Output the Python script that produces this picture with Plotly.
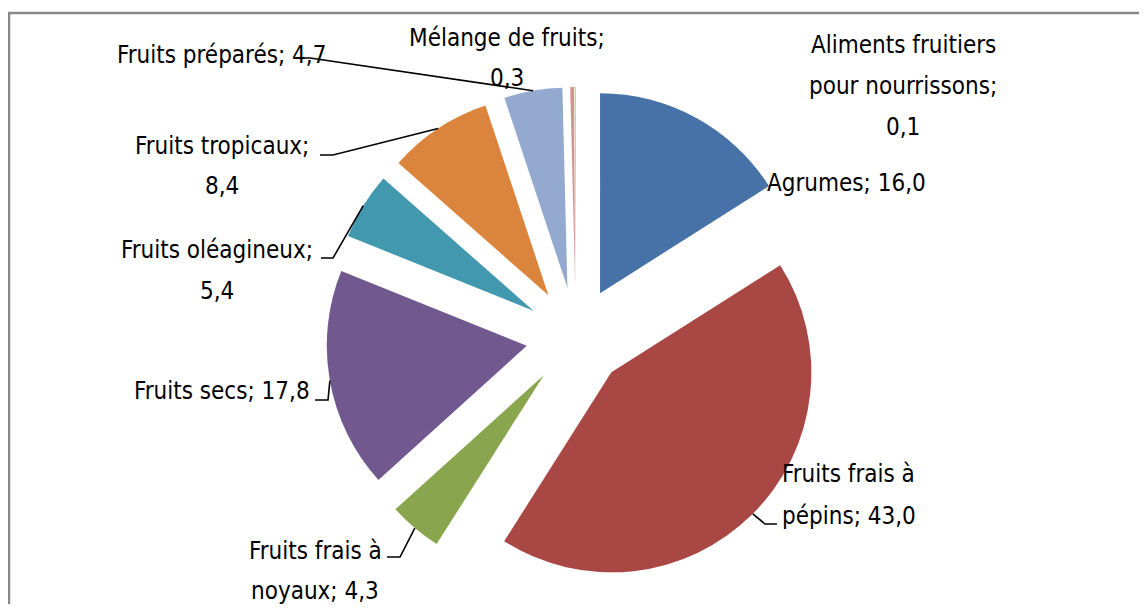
import math
import plotly.graph_objects as go

# ---------------- data ----------------
categories = [
    "Agrumes",
    "Fruits frais à pépins",
    "Fruits frais à noyaux",
    "Fruits secs",
    "Fruits oléagineux",
    "Fruits tropicaux",
    "Fruits préparés",
    "Mélange de fruits",
    "Aliments fruitiers pour nourrissons",
]
values = [16.0, 43.0, 4.3, 17.8, 5.4, 8.4, 4.7, 0.3, 0.1]
colors = ["#4672A8", "#A94744", "#89A54E", "#71588F", "#4198AF",
          "#DB843D", "#93A9CF", "#D09593", "#B9CD96"]

# words per label line (label text = "<category>; <value>")
line_words = [[2], [3, 2], [3, 2], [3], [2, 1], [2, 1], [3], [3, 1], [2, 2, 1]]

# ---------------- layout constants (window pixels) ----------------
W, H = 1147, 612            # browser window
OX, OY = 8, 8               # default page body margin
FW, FH = W - 2 * OX, H - 2 * OY   # figure size so the page fits the window
CX, CY = 576, 337           # pie centre
HALF = 250                  # half size of pie domain
PULL = 0.25
R = HALF / (1 + PULL)

# label placement: (x, first line y, line gap, xanchor)
label_pos = [
    (765, 183, 41, "left"),
    (780, 474, 42, "left"),
    (315, 551, 40, "center"),
    (312, 391, 41, "right"),
    (217, 250, 41, "center"),
    (222, 146, 40, "center"),
    (328, 55, 41, "right"),
    (507, 38, 40, "center"),
    (903, 45, 41, "center"),
]
# leader lines: index -> (start x, start y, horizontal run)
leaders = {
    1: (777, 524, -12),
    2: (387, 557, 13),
    3: (315, 400, 13),
    4: (321, 258, 12),
    5: (320, 155, 13),
    6: (298, 58, 12),
}

FONT = "Liberation Sans Narrow, DejaVu Sans Condensed, Arial Narrow, Liberation Sans, Arial, sans-serif"


def px(x, y):
    return (x - OX) / FW, 1 - (y - OY) / FH


def fmt(v):
    return f"{v:.1f}".replace(".", ",")


fig = go.Figure()
x0, y1 = px(CX - HALF, CY - HALF)
x1, y0 = px(CX + HALF, CY + HALF)
fig.add_trace(go.Pie(
    labels=categories,
    values=values,
    sort=False,
    direction="clockwise",
    rotation=0,
    pull=[PULL] * len(values),
    marker=dict(colors=colors, line=dict(width=0)),
    textinfo="none",
    hoverinfo="label+value",
    showlegend=False,
    domain=dict(x=[x0, x1], y=[y0, y1]),
))

annotations = []
shapes = []
total = sum(values)
cum = 0.0
for i, (cat, val) in enumerate(zip(categories, values)):
    mid = math.radians((cum + val / 2) / total * 360)
    cum += val
    words = f"{cat}; {fmt(val)}".split(" ")
    lines, k = [], 0
    for n in line_words[i]:
        lines.append(" ".join(words[k:k + n]))
        k += n
    lx, ly, gap, anchor = label_pos[i]
    for j, ln in enumerate(lines):
        ax_, ay_ = px(lx, ly + j * gap)
        annotations.append(dict(
            x=ax_, y=ay_, xref="paper", yref="paper", text=ln, showarrow=False,
            xanchor=anchor, yanchor="middle",
            font=dict(family=FONT, size=24, color="#000000"),
        ))
    if i in leaders:
        sx, sy, run = leaders[i]
        ex = CX + (1 + PULL) * R * math.sin(mid)
        ey = CY - (1 + PULL) * R * math.cos(mid)
        p0 = px(sx, sy)
        p1 = px(sx + run, sy)
        p2 = px(ex, ey)
        shapes.append(dict(
            type="path", xref="paper", yref="paper",
            path=f"M {p0[0]},{p0[1]} L {p1[0]},{p1[1]} L {p2[0]},{p2[1]}",
            line=dict(color="#000000", width=1.6),
        ))

# chart border (partially cropped at right/bottom)
bx0, by1 = px(9, 13)
shapes.append(dict(type="rect", xref="paper", yref="paper",
                   x0=bx0, y0=-0.05, x1=1.05, y1=by1,
                   line=dict(color="#878787", width=2.5), fillcolor="rgba(0,0,0,0)"))

fig.update_layout(
    width=FW, height=FH,
    margin=dict(l=0, r=0, t=0, b=0),
    paper_bgcolor="white",
    plot_bgcolor="white",
    annotations=annotations,
    shapes=shapes,
    showlegend=False,
)

fig.write_html("out.html")
